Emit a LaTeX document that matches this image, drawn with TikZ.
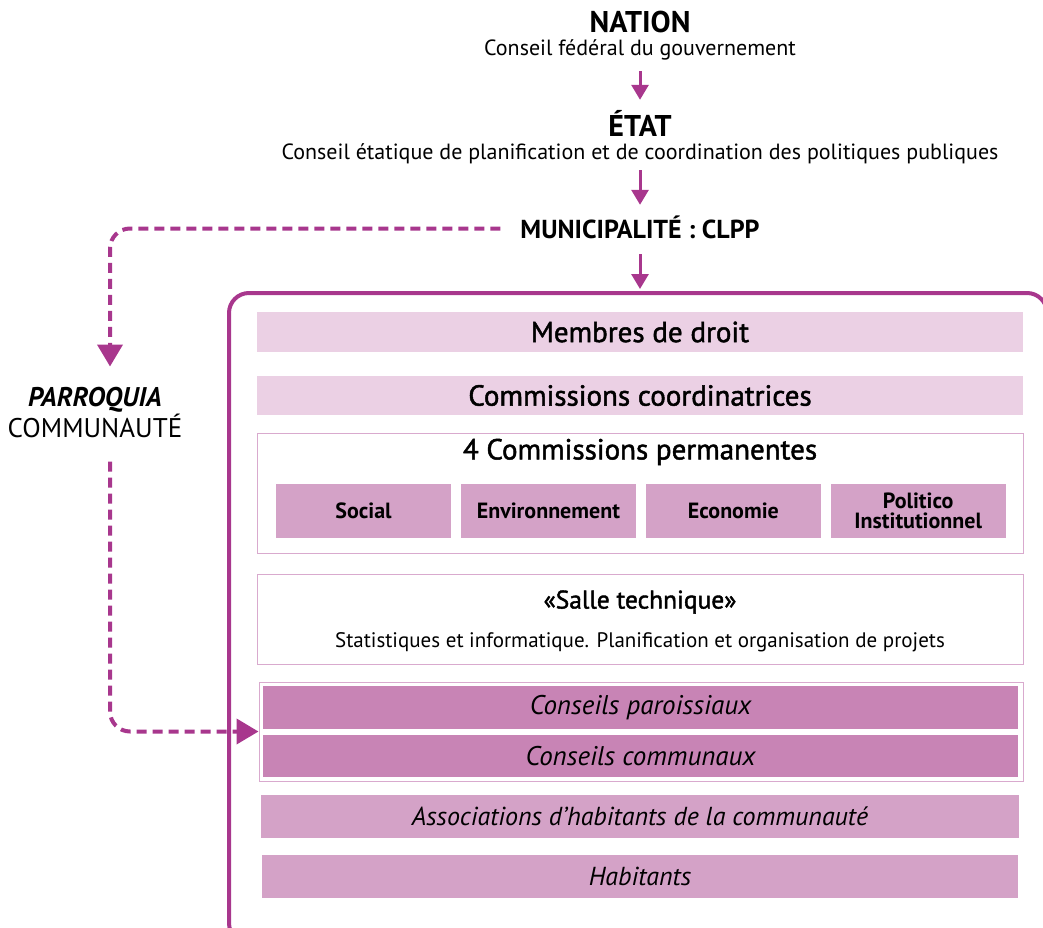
\documentclass[tikz,border=0pt]{standalone}
\usepackage{fontspec}
\setmainfont{PT Sans}
\newfontfamily\mediumsans[FakeBold=1.6]{PT Sans}
\usetikzlibrary{shapes,arrows,arrows.meta,positioning}

\definecolor{plum}{HTML}{A8378D}
\definecolor{palepink}{HTML}{EBD0E4}
\definecolor{midpink}{HTML}{D4A2C7}
\definecolor{deeppink}{HTML}{C884B5}
\definecolor{edgepink}{HTML}{D9AACE}

\begin{document}
\begin{tikzpicture}[
    x=1pt, y=-1pt,
    level/.style={inner sep=0pt, anchor=base, text height=22pt, text depth=0pt, font=\bfseries\fontsize{30}{32}\selectfont},
    council/.style={inner sep=0pt, anchor=base, text height=16pt, text depth=5pt, font=\fontsize{22}{24}\selectfont},
    band/.style={rectangle, inner sep=0pt, minimum width=766pt, minimum height=40pt, fill=palepink, font=\mediumsans\fontsize{29}{30}\selectfont},
    bandtitle/.style={inner sep=0pt, font=\mediumsans\fontsize{29}{30}\selectfont},
    group/.style={rectangle, inner sep=0pt, draw=edgepink, line width=1pt, minimum width=766pt},
    commission/.style={rectangle, inner sep=0pt, minimum width=175pt, minimum height=54pt, fill=midpink, align=center, font=\bfseries\fontsize{22}{20}\selectfont},
    councilband/.style={band, fill=midpink, font=\itshape\fontsize{26}{28}\selectfont},
    arrow/.style={-{Triangle[width=17pt,length=15pt]}, line width=3pt, draw=plum},
    dasharrow/.style={-{Triangle[width=25pt,length=22pt]}, line width=4pt, draw=plum, dash pattern=on 10pt off 6pt, rounded corners=20pt}
]
\path[use as bounding box, clip] (0,0) rectangle (1043,928);
% Levels of government
\node[level] (nation) at (640,33) {NATION};
\node[council] (nationcouncil) at (640,56) {Conseil fédéral du gouvernement};
\node[level] (etat) at (640,137) {ÉTAT};
\node[council] (etatcouncil) at (640,160) {Conseil étatique de planification et de coordination des politiques publiques};
\node[level, font=\bfseries\fontsize{26}{28}\selectfont, text height=19pt] (clpp) at (640,238) {MUNICIPALITÉ : CLPP};
% Parroquia
\node[inner sep=0pt, align=center, font=\fontsize{27}{31}\selectfont] (parroquia) at (95,413) {\textbf{\textit{PARROQUIA}}\\COMMUNAUTÉ};
% CLPP frame
\node[rectangle, draw=plum, line width=4pt, rounded corners=20pt, minimum width=818pt, minimum height=650pt, inner sep=0pt] (frame) at (638,618) {};
% Members and commissions
\node[band] (droit) at (640,332) {Membres de droit};
\node[band, minimum height=39pt] (coord) at (640,395.5) {Commissions coordinatrices};
\node[group, minimum height=120pt] (permanent) at (640,493) {};
\node[bandtitle] (permtitle) at (640,452) {4 Commissions permanentes};
\node[commission] (social) at (363.5,511) {Social};
\node[commission, right=9.5pt of social] (environ) {Environnement};
\node[commission, right=9.5pt of environ] (economie) {Economie};
\node[commission, right=9.5pt of economie] (politico) {Politico\\Institutionnel};
% Salle technique
\node[group, minimum height=90pt] (salle) at (640,619) {};
\node[bandtitle, font=\mediumsans\fontsize{25.5}{28}\selectfont] (salletitle) at (640,602) {«Salle technique»};
\node[inner sep=0pt, font=\fontsize{21}{24}\selectfont] (sallesub) at (640,642) {Statistiques et informatique. Planification et organisation de projets};
% Councils and inhabitants
\node[group, minimum width=764pt, minimum height=99pt] (conseils) at (641,731.5) {};
\node[councilband, fill=deeppink, minimum width=755pt, minimum height=43pt, font=\itshape\fontsize{27}{28}\selectfont] (paroisse) at (640.5,707.5) {Conseils paroissiaux};
\node[councilband, fill=deeppink, minimum width=755pt, minimum height=42pt, font=\itshape\fontsize{27}{28}\selectfont] (commune) at (640.5,756) {Conseils communaux};
\node[councilband, minimum width=758pt, minimum height=43pt] (assoc) at (640,816.5) {Associations d’habitants de la communauté};
\node[councilband, minimum width=756pt, minimum height=43pt] (habitants) at (640,876.5) {Habitants};
% Arrows
\draw[arrow, shorten <=10pt, shorten >=15pt] (nationcouncil) -- (etat);
\draw[arrow, shorten <=5pt, shorten >=14pt] (etatcouncil) -- (clpp);
\draw[arrow, shorten <=16pt, shorten >=2pt] (clpp) -- (clpp |- frame.north);
\draw[dasharrow, shorten <=20pt, shorten >=21pt] (clpp.west) -| ([xshift=15pt]parroquia.north);
\draw[dasharrow, shorten <=23pt] ([xshift=15pt]parroquia.south) |- (conseils.west);
\end{tikzpicture}
\end{document}
